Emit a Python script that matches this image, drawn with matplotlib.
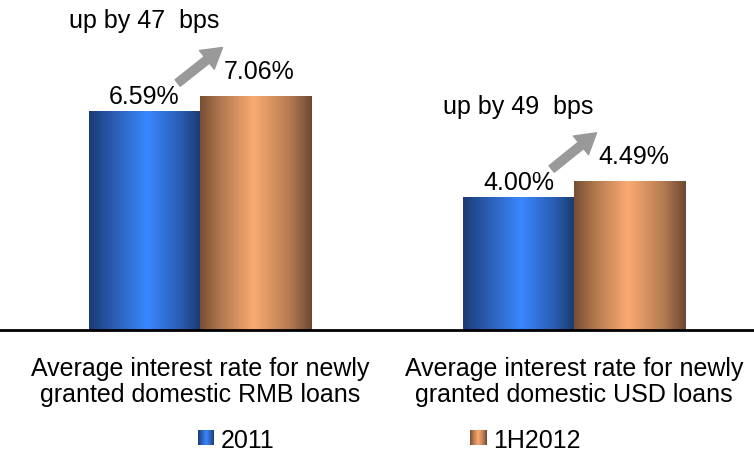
import numpy as np
import matplotlib
matplotlib.use("Agg")
from matplotlib import pyplot as plt
from matplotlib.colors import LinearSegmentedColormap

categories = ["Average interest rate for newly\ngranted domestic RMB loans",
              "Average interest rate for newly\ngranted domestic USD loans"]
series_names = ["2011", "1H2012"]
rate_2011 = [6.59, 4.00]
rate_1h2012 = [7.06, 4.49]
change_bps = [47, 49]

plt.rcParams['font.family'] = ['Liberation Sans', 'DejaVu Sans']

blue_cmap = LinearSegmentedColormap.from_list(
    "blue_bar", [(0, '#1a3b74'), (0.18, '#2857a8'), (0.52, '#3a88ff'),
                 (0.82, '#2a5cb2'), (1, '#1b3a6e')])
orange_cmap = LinearSegmentedColormap.from_list(
    "orange_bar", [(0, '#784e33'), (0.18, '#b0774e'), (0.48, '#fcaa72'),
                   (0.8, '#b57b52'), (1, '#6c4830')])


def gradient_fill(ax, bar, cmap):
    x, y = bar.get_xy()
    w, h = bar.get_width(), bar.get_height()
    grad = np.linspace(0, 1, 256).reshape(1, -1)
    im = ax.imshow(grad, cmap=cmap, aspect='auto', extent=[x, x + w, y, y + h],
                   zorder=2, interpolation='bilinear')
    im.set_clip_path(bar)


fig = plt.figure(figsize=(7.54, 4.52), dpi=100)
ax = fig.add_axes([0, 121 / 452, 1, 331 / 452])

x = np.arange(len(categories))
width = 0.297
bars_a = ax.bar(x - width / 2, rate_2011, width, facecolor='none', edgecolor='none')
bars_b = ax.bar(x + width / 2, rate_1h2012, width, facecolor='none', edgecolor='none')
for b in bars_a:
    gradient_fill(ax, b, blue_cmap)
for b in bars_b:
    gradient_fill(ax, b, orange_cmap)

for i in range(len(categories)):
    ax.annotate(f"{rate_2011[i]:.2f}%", (x[i] - width / 2, rate_2011[i]),
                xytext=(0, 6), textcoords='offset points', ha='center',
                va='baseline', fontsize=18)
    ax.annotate(f"{rate_1h2012[i]:.2f}%", (x[i] + width / 2 + 0.01, rate_1h2012[i]),
                xytext=(0, 13), textcoords='offset points', ha='center',
                va='baseline', fontsize=18)
    ax.text(x[i] - width / 2, rate_2011[i] + 2.55, f"up by {change_bps[i]}  bps",
            ha='center', va='baseline', fontsize=18)
    ax.annotate('', xy=(x[i] + 0.06, rate_1h2012[i] + 1.45),
                xytext=(x[i] - 0.06, rate_2011[i] + 0.85),
                arrowprops=dict(arrowstyle='simple,head_width=0.86,head_length=0.72,tail_width=0.3',
                                mutation_scale=20, color='#999999',
                                shrinkA=0, shrinkB=0))

ax.set_xlim(-0.535, 1.481)
ax.set_ylim(0, 9.97)
ax.set_xticks(x)
ax.set_xticklabels(categories, fontsize=18, linespacing=1.1)
ax.tick_params(axis='x', length=0, pad=19)
ax.set_yticks([])
for side in ['top', 'left', 'right']:
    ax.spines[side].set_visible(False)
ax.spines['bottom'].set_linewidth(2)
ax.spines['bottom'].set_zorder(3)

# legend swatches with the same gradients
swatches = [(198, blue_cmap), (470, orange_cmap)]
for (px, cmap), name in zip(swatches, series_names):
    lax = fig.add_axes([px / 754, 6 / 452, 16 / 754, 15 / 452])
    lax.imshow(np.linspace(0, 1, 64).reshape(1, -1), cmap=cmap, aspect='auto')
    lax.axis('off')
    fig.text((px + 23) / 754, 11 / 452, name, fontsize=18, va='center')

fig.savefig("out.png", dpi=100)
